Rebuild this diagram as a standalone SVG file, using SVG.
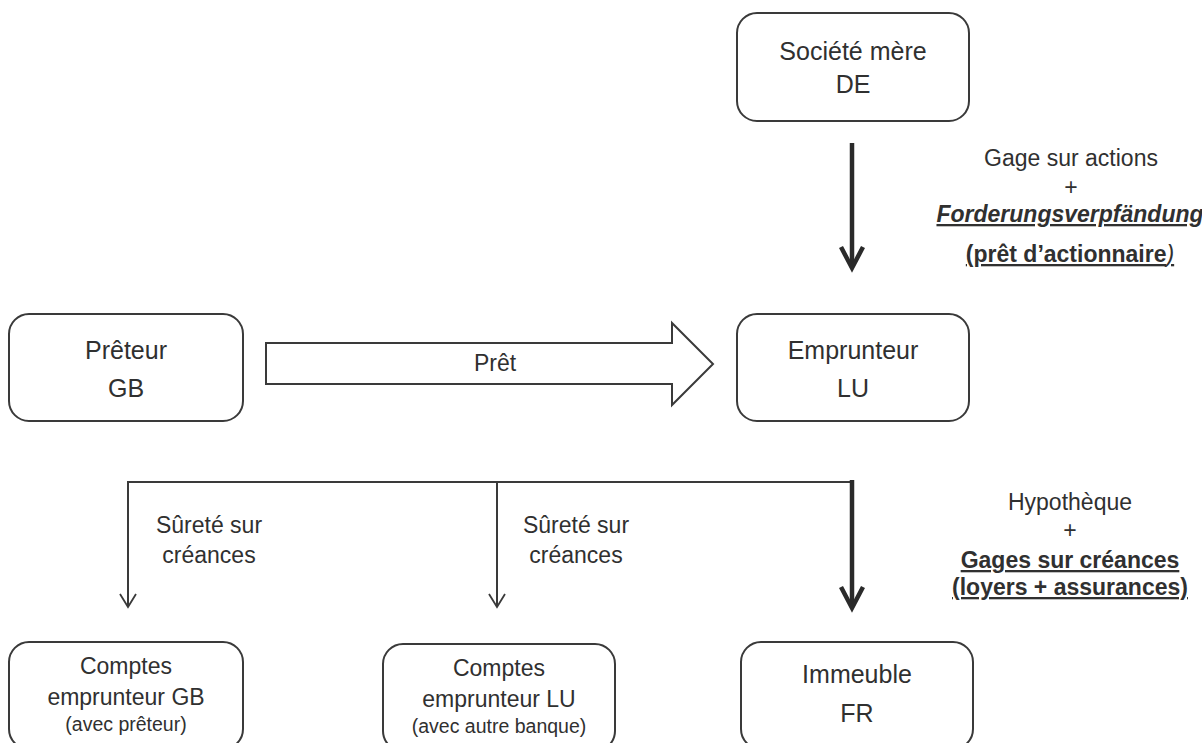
<svg xmlns="http://www.w3.org/2000/svg" width="1202" height="743" viewBox="0 0 1202 743">
<style>
  .box { fill: #ffffff; stroke: #3a3a3a; stroke-width: 2; }
  .t { font-family: "Liberation Sans", Arial, sans-serif; fill: #303030; text-anchor: middle; }
  .big { font-size: 25px; }
  .lbl { font-size: 23px; }
  .small { font-size: 19.5px; }
  .b { font-weight: bold; text-decoration: underline; }
  .thin { stroke: #3a3a3a; stroke-width: 2; fill: none; }
  .thick { stroke: #2a2a2a; stroke-width: 4.5; fill: none; }
</style>
<defs>
  <marker id="vthin" markerWidth="16" markerHeight="18" refX="14" refY="9" orient="auto" markerUnits="userSpaceOnUse" viewBox="0 0 16 18">
    <path d="M1,1 L14,9 L1,17" fill="none" stroke="#3a3a3a" stroke-width="1.8"/>
  </marker>
</defs>
<rect width="1202" height="743" fill="#ffffff"/>

<g id="connectors">
  <!-- Société mère -> Emprunteur -->
  <line class="thick" x1="852" y1="143" x2="852" y2="266"/>
  <path class="thick" d="M841,247 L852,268 L863,247"/>
  <!-- Prêt hollow arrow -->
  <path d="M266,343 L672,343 L672,323 L713,364 L672,405 L672,384 L266,384 Z" fill="#ffffff" stroke="#3a3a3a" stroke-width="2"/>
  <!-- distribution line -->
  <polyline class="thin" points="128,483 128,482 852,482"/>
  <line class="thin" x1="128" y1="481" x2="128" y2="607" marker-end="url(#vthin)"/>
  <line class="thin" x1="497" y1="482" x2="497" y2="607" marker-end="url(#vthin)"/>
  <line class="thick" x1="852" y1="480" x2="852" y2="606"/>
  <path class="thick" d="M841,587 L852,608 L863,587"/>
</g>

<g id="societe-mere">
  <rect class="box" x="737" y="13" width="232" height="108" rx="20"/>
  <text class="t big" x="853" y="60">Société mère</text>
  <text class="t big" x="853" y="93">DE</text>
</g>

<g id="preteur">
  <rect class="box" x="9" y="314" width="234" height="107" rx="20"/>
  <text class="t big" x="126" y="359">Prêteur</text>
  <text class="t big" x="126" y="397">GB</text>
</g>

<g id="pret-label">
  <text class="t lbl" x="495" y="371">Prêt</text>
</g>

<g id="emprunteur">
  <rect class="box" x="737" y="314" width="232" height="107" rx="20"/>
  <text class="t big" x="853" y="359">Emprunteur</text>
  <text class="t big" x="853" y="397">LU</text>
</g>

<g id="label-gage">
  <text class="t lbl" x="1071" y="166">Gage sur actions</text>
  <text class="t lbl" x="1071" y="195" font-size="20">+</text>
  <text class="t lbl b" x="1070" y="222" font-style="italic" font-size="22">Forderungsverpfändung</text>
  <text class="t lbl b" x="1070" y="262">(prêt d’actionnaire<tspan font-style="italic" font-weight="normal">)</tspan></text>
</g>

<g id="label-surete-1">
  <text class="t lbl" x="209" y="533">Sûreté sur</text>
  <text class="t lbl" x="209" y="563">créances</text>
</g>

<g id="label-surete-2">
  <text class="t lbl" x="576" y="533">Sûreté sur</text>
  <text class="t lbl" x="576" y="563">créances</text>
</g>

<g id="label-hypotheque">
  <text class="t lbl" x="1070" y="510">Hypothèque</text>
  <text class="t lbl" x="1070" y="538" font-size="20">+</text>
  <text class="t lbl b" x="1070" y="568">Gages sur créances</text>
  <text class="t lbl b" x="1070" y="595">(loyers + assurances)</text>
</g>

<g id="comptes-gb">
  <rect class="box" x="9" y="642" width="234" height="107" rx="20"/>
  <text class="t lbl" x="126" y="674">Comptes</text>
  <text class="t lbl" x="126" y="705">emprunteur GB</text>
  <text class="t small" x="126" y="731">(avec prêteur)</text>
</g>

<g id="comptes-lu">
  <rect class="box" x="383" y="644" width="232" height="107" rx="20"/>
  <text class="t lbl" x="499" y="676">Comptes</text>
  <text class="t lbl" x="499" y="707">emprunteur LU</text>
  <text class="t small" x="499" y="733">(avec autre banque)</text>
</g>

<g id="immeuble">
  <rect class="box" x="741" y="642" width="232" height="107" rx="20"/>
  <text class="t big" x="857" y="683">Immeuble</text>
  <text class="t big" x="857" y="722">FR</text>
</g>
</svg>
